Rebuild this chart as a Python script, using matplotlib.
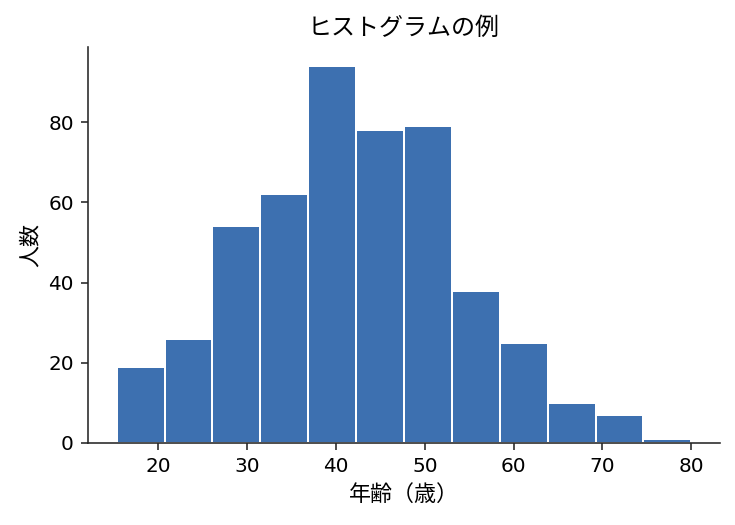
#!/usr/bin/env python3
"""Age histogram (ヒストグラムの例) redrawn from read-off bin counts."""

import matplotlib

matplotlib.use("Agg")
import matplotlib.pyplot as plt
import numpy as np

plt.rcParams["font.family"] = ["DejaVu Sans", "Noto Sans CJK JP"]

BLUE = "#3d70b0"
INK = "#262626"

# bin edges (years) and counts per bin
bin_start = 15.3
bin_stop = 80.0
n_bins = 12
counts = [19, 26, 54, 62, 94, 78, 79, 38, 25, 10, 7, 1]

title = "ヒストグラムの例"
x_label = "年齢（歳）"
y_label = "人数"


def main() -> None:
    edges = np.linspace(bin_start, bin_stop, n_bins + 1)
    centers = (edges[:-1] + edges[1:]) / 2

    fig = plt.figure(figsize=(735 / 144, 525 / 144), dpi=144)
    ax = fig.add_axes((88 / 735, 82 / 525, 632 / 735, 396 / 525))
    ax.hist(centers, bins=edges, weights=counts, color=BLUE,
            edgecolor="white", linewidth=1.0)

    ax.set_title(title, fontsize=12)
    ax.set_xlabel(x_label, fontsize=11)
    ax.set_ylabel(y_label, fontsize=11)
    ax.tick_params(labelsize=10, color=INK)
    ax.set_yticks([0, 20, 40, 60, 80])
    ax.set_xticks([20, 30, 40, 50, 60, 70, 80])
    for side in ("top", "right"):
        ax.spines[side].set_visible(False)
    for side in ("left", "bottom"):
        ax.spines[side].set_color(INK)

    fig.savefig("out.png", dpi=144)
    plt.close(fig)


if __name__ == "__main__":
    main()
